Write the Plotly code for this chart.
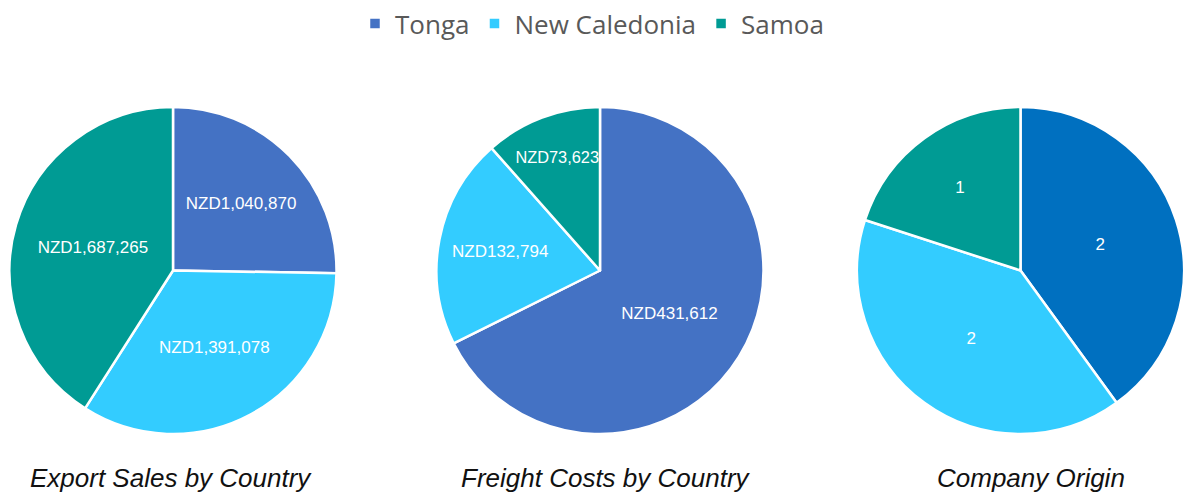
import plotly.graph_objects as go

countries = ["Tonga", "New Caledonia", "Samoa"]
export_sales = [1040870, 1391078, 1687265]
freight_costs = [431612, 132794, 73623]
company_origin = [2, 2, 1]

titles = ["Export Sales by Country", "Freight Costs by Country", "Company Origin"]

colors_main = ["#4472C4", "#33CCFF", "#009B94"]
colors_origin = ["#0070C0", "#33CCFF", "#009B94"]

W, H = 1184, 495
R = 163.5
centers = [173, 600, 1020.5]
cy = 270.5

fig = go.Figure()
datasets = [
    (export_sales, colors_main, "NZD%{value:,}"),
    (freight_costs, colors_main, "NZD%{value:,}"),
    (company_origin, colors_origin, "%{value}"),
]
for i, (vals, cols, tmpl) in enumerate(datasets):
    cx = centers[i]
    x0 = max(0.0, (cx - R) / W)
    x1 = min(1.0, (cx + R) / W)
    fig.add_trace(go.Pie(
        labels=countries,
        values=vals,
        sort=False,
        direction="clockwise",
        rotation=0,
        marker=dict(colors=cols, line=dict(color="white", width=2.5)),
        texttemplate=tmpl,
        textposition="inside",
        insidetextorientation="horizontal",
        textfont=dict(color="white", size=17, family="Liberation Sans, Arial"),
        hoverinfo="label+value+percent",
        domain=dict(x=[x0, x1],
                    y=[1 - (cy + R) / H, 1 - (cy - R) / H]),
        showlegend=(i == 0),
    ))

annotations = []
title_x = [171, 606, 1031]
for t, x in zip(titles, title_x):
    annotations.append(dict(
        text=f"<i>{t}</i>", x=x / W, y=1 - 478 / H, xref="paper", yref="paper",
        xanchor="center", yanchor="middle", showarrow=False,
        font=dict(family="Liberation Sans Narrow, Arial Narrow, Liberation Sans", size=26, color="#111111"),
    ))

fig.update_layout(
    width=W, height=H,
    margin=dict(l=0, r=0, t=0, b=0),
    paper_bgcolor="white",
    plot_bgcolor="white",
    legend=dict(orientation="h", x=0.5, xanchor="center", y=1.0, yanchor="top",
                font=dict(family="Open Sans, Noto Sans", size=26, color="#595959"),
                itemwidth=30, tracegroupgap=0),
    annotations=annotations,
)

fig.write_html("out.html", config={"displayModeBar": False},
               post_script="document.body.style.margin='0';document.body.style.overflow='hidden';")
